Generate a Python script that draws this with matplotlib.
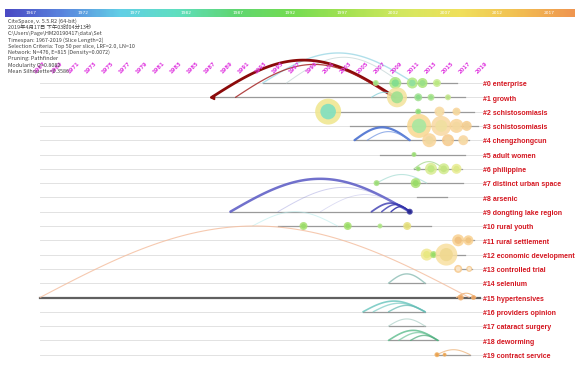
import numpy as np
import matplotlib.pyplot as plt
from matplotlib.colors import LinearSegmentedColormap

plt.rcParams['font.family'] = ['DejaVu Sans', 'Noto Sans CJK SC']

# timeline slices
years = list(range(1967, 2020, 2))
bar_years = list(range(1967, 2020, 5))
bar_colors = ['#4a4ac4', '#5a86de', '#62cfe6', '#5fdfc0', '#5fd673', '#72dc52',
              '#a4e252', '#d4e860', '#f0e05c', '#f2c052', '#ef9650']

header = [
    'CiteSpace, v. 5.5.R2 (64-bit)',
    '2019年4月17日 下午03时04分13秒',
    'C:\\Users\\Page\\HM20190417\\data\\Set',
    'Timespan: 1967-2019 (Slice Length=2)',
    'Selection Criteria: Top 50 per slice, LRF=2.0, LN=10',
    'Network: N=476, E=815 (Density=0.0072)',
    'Pruning: Pathfinder',
    'Modularity Q=0.8082',
    'Mean Silhouette=0.3586',
]

clusters = ['#0 enterprise', '#1 growth', '#2 schistosomiasis', '#3 schistosomiasis',
            '#4 chengzhongcun', '#5 adult women', '#6 philippine',
            '#7 distinct urban space', '#8 arsenic', '#9 dongting lake region',
            '#10 rural youth', '#11 rural settlement', '#12 economic development',
            '#13 controlled trial', '#14 selenium', '#15 hypertensives',
            '#16 providers opinion', '#17 cataract surgery', '#18 deworming',
            '#19 contract service']

# active span of every cluster (first year, last year)
span_start = [1993.2, 1987.2, 2000.9, 2003.5, 2004.0, 2007.0, 2011.0, 2006.6, 2011.4, 1989.4,
              1995.0, 2015.8, 2012.3, 2015.8, 2008.0, 1967.0, 2005.0, 2008.0, 2008.0, 2013.7]
span_end = [2016.0, 2017.0, 2018.0, 2018.5, 2017.5, 2017.0, 2016.6, 2016.8, 2014.9, 2010.5,
            2013.0, 2018.0, 2017.0, 2017.8, 2012.3, 2018.8, 2012.3, 2012.3, 2013.8, 2017.6]

# co-citation links: row, from year, to year, arc height (rows), colour, width, alpha
arc_row = [0, 0, 1, 1, 1, 4, 4, 6, 7, 9, 9, 9, 9, 9, 9, 10, 14, 15, 15,
           16, 16, 16, 17, 18, 18, 18, 19]
arc_from = [1993.2, 1996.0, 1987.2, 1990.0, 2006.0, 2004.0, 2005.5, 2011.0, 2006.6,
            1989.4, 1995.0, 2000.0, 2006.0, 2007.2, 2008.3, 1992.0, 2008.0, 1967.0, 2016.0,
            2005.0, 2006.2, 2008.0, 2008.0, 2008.0, 2009.2, 2010.6, 2013.7]
arc_to = [2011.0, 2009.5, 2008.8, 2008.5, 2009.0, 2010.5, 2010.5, 2014.5, 2012.5,
          2010.5, 2010.5, 2010.5, 2010.5, 2010.5, 2010.5, 2002.0, 2012.3, 2017.5, 2018.3,
          2012.3, 2012.3, 2012.3, 2012.3, 2013.8, 2013.8, 2013.8, 2017.6]
arc_h = [2.1, 1.8, 2.6, 2.3, 0.35, 0.9, 0.6, 0.5, 0.6,
         2.3, 1.7, 1.2, 0.6, 0.5, 0.35, 1.0, 0.65, 5.0, 0.3,
         0.75, 0.6, 0.45, 0.5, 0.7, 0.55, 0.35, 0.35]
arc_color = ['#a8dce8', '#c8d8d8', '#8b0a0a', '#a01818', '#88d0d8', '#4a70d0', '#6a90e0',
             '#a8d890', '#b0e0d8', '#5858c4', '#7a7ad0', '#8a8ad8', '#3a3ab0', '#3a3ab0',
             '#3030a8', '#b8ecec', '#98c4bc', '#f4bc9c', '#f0b880',
             '#66c4bc', '#7acbc4', '#5fb8b0', '#b4d4cc', '#5cbc8c', '#70c49a', '#4aa878',
             '#f0c090']
arc_lw = [1.0, 0.7, 2.0, 0.9, 0.8, 1.6, 0.8, 0.8, 0.8, 1.8, 0.7, 0.6, 1.3, 1.1, 1.0,
          0.7, 1.0, 0.8, 0.8, 1.2, 1.0, 1.0, 0.8, 1.2, 1.0, 1.0, 0.8]
arc_alpha = [0.9, 0.8, 1.0, 0.8, 0.8, 0.9, 0.7, 0.8, 0.8, 0.85, 0.35, 0.3, 0.8, 0.8, 0.9,
             0.6, 0.9, 0.8, 0.9, 0.8, 0.7, 0.7, 0.8, 0.8, 0.7, 0.7, 0.9]

# cited references: row, year, radius (px), ring colour, centre colour
node_row = [0, 0, 0, 0, 0, 1, 1, 1, 1, 2, 2, 2, 2, 3, 3, 3, 3, 4, 4, 4,
            5, 6, 6, 6, 6, 7, 7, 9, 10, 10, 10, 10, 11, 11, 12, 12, 12,
            13, 13, 15, 15, 19, 19]
node_year = [2006.5, 2008.8, 2010.8, 2012.0, 2013.7, 2009.0, 2011.5, 2013.0, 2015.0,
             2000.9, 2011.5, 2014.0, 2016.0, 2011.6, 2014.2, 2016.0, 2017.2,
             2012.8, 2015.0, 2016.8, 2011.0, 2011.5, 2013.0, 2014.5, 2016.0,
             2006.6, 2011.2, 2010.5, 1998.0, 2003.2, 2007.0, 2010.2,
             2016.2, 2017.4, 2012.5, 2013.3, 2014.8, 2016.2, 2017.5, 2016.5, 2018.0,
             2013.7, 2014.6]
node_r = [3, 6, 5.5, 5, 4, 10, 4, 3.5, 3, 13, 3, 5, 4, 12, 10, 7, 5, 7, 6, 5,
          2.5, 2.5, 6, 5.5, 5, 3, 5, 3, 4, 4, 2.5, 4, 6, 5, 6, 3.5, 11,
          4, 3, 3, 2.5, 2.5, 2]
node_ring = ['#b8ec90', '#a8e880', '#b0e880', '#a8e478', '#c8ec90', '#f3e29a', '#a0e090',
             '#b0e490', '#c8e890', '#efe68c', '#a0e080', '#f8d8a0', '#f8d498',
             '#f8d890', '#f8d8a0', '#f8d498', '#f5cc8c', '#f8d498', '#f6c888', '#f8d49c',
             '#a8e080', '#a8e080', '#d8ec90', '#d0ea8c', '#e8ec90', '#a8e080', '#a8e070',
             '#3030a0', '#a8e070', '#a8e070', '#b8e890', '#e8e080',
             '#f8d090', '#f8d090', '#f0e890', '#a8e070', '#f8e0a0',
             '#f6c88a', '#f6c88a', '#f0b070', '#f0b070', '#f0b060', '#f0b060']
node_core = ['#98e080', '#80dd90', '#90e0a0', '#98e088', '#b8e880', '#a0e090', '#88dc88',
             '#98e088', '#b8e088', '#80e0c0', '#88dc78', '#f4e0a8', '#f0d8a0',
             '#a8e8a0', '#f0e0a0', '#f4d8a0', '#f0d098', '#f0d8a0', '#f2d4a0', '#f4dca8',
             '#98dc78', '#98dc78', '#c0e880', '#c4e480', '#dce888', '#98dc78', '#98dc68',
             '#28288c', '#98dc68', '#98dc68', '#a8e480', '#e0dc78',
             '#f0c080', '#f0c480', '#e8e880', '#98dc68', '#f0d890',
             '#fae8d0', '#fae8d0', '#e8a060', '#e8a060', '#e8a050', '#e8a050']

# pixel layout of the timeline: 1967 at x=40, 8.5 px per year; row 0 at y=83, 14.3 px per row
W, H = 578, 367
px_year, x0_px, yr0 = 8.5, 40, 1967
px_row, y0_px = 14.3, 83

fig = plt.figure(figsize=(W / 100, H / 100), dpi=100)
ax = fig.add_axes([0, 0, 1, 1])
ax.set_xlim(yr0 - x0_px / px_year, yr0 + (W - x0_px) / px_year)
ax.set_ylim((H - y0_px) / px_row, -y0_px / px_row)
ax.axis('off')

n = len(clusters)
for i in range(n):
    ax.plot([years[0], 2019], [i, i], color='#e2e2e2', lw=0.7, zorder=1)
    ax.plot([span_start[i], span_end[i]], [i, i],
            color='#606060' if i == 15 else '#9a9a9a',
            lw=1.6 if i == 15 else 0.9, zorder=2)
    ax.text(2019.1, i + 0.12, clusters[i], color='#d4141e', fontsize=5.0,
            family='Liberation Sans', fontweight='bold', va='center', ha='left', zorder=6)

t = np.linspace(0, 1, 80)
for r, a, b, h, c, lw, al in zip(arc_row, arc_from, arc_to, arc_h, arc_color, arc_lw, arc_alpha):
    ax.plot(a + (b - a) * t, r - h * np.sin(np.pi * t), color=c, lw=lw, alpha=al,
            solid_capstyle='round', zorder=3)
# arrow tip of the strongest link
ax.plot(arc_from[2], arc_row[2], marker='<', ms=3, color='#8b0a0a', zorder=4)

s_ring = [(2 * r * 0.72) ** 2 for r in node_r]
s_core = [(1.2 * r * 0.72) ** 2 for r in node_r]
ax.scatter(node_year, node_row, s=s_ring, c=node_ring, alpha=0.85, linewidths=0, zorder=4)
ax.scatter(node_year, node_row, s=s_core, c=node_core, alpha=0.9, linewidths=0, zorder=5)

# slice labels along the top
for y in years:
    ax.text(y, -1.05, str(y), color='#e03ce0', fontsize=3.8, fontweight='bold',
            rotation=45, ha='center', va='center', zorder=6)

# colour legend of the years
cmap = LinearSegmentedColormap.from_list('slices', bar_colors)
cax = fig.add_axes([5 / W, 1 - 17 / H, 570 / W, 8 / H])
cax.imshow(np.linspace(0, 1, 300)[None, :], aspect='auto', cmap=cmap,
           extent=[bar_years[0] - 2.5, bar_years[-1] + 2.5, 0, 1])
cax.axis('off')
for y in bar_years:
    cax.text(y, 0.5, str(y), color='white', fontsize=3.2, ha='center', va='center')

for k, line in enumerate(header):
    fig.text(8 / W, 1 - (21 + 6.3 * k) / H, line, fontsize=3.9, color='#404040',
             ha='left', va='center', family=['Noto Sans CJK SC', 'DejaVu Sans'])

fig.savefig('out.png', dpi=100)
